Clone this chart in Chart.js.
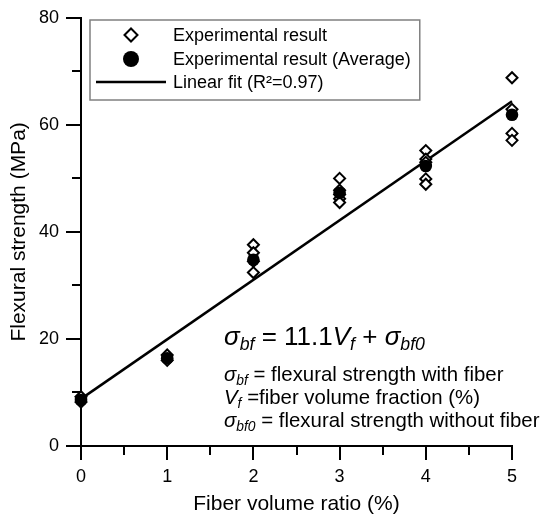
<!DOCTYPE html>
<html>
<head>
<meta charset="utf-8">
<script src="https://cdn.jsdelivr.net/npm/chart.js@4.4.1/dist/chart.umd.min.js"></script>
<style>
  html, body { margin: 0; padding: 0; background: #fff; }
  #wrap { position: relative; width: 543px; height: 515px; }
  .note { position: absolute; left: 224px; font-family: "Liberation Sans", Arial, sans-serif; color: #000; white-space: nowrap; }
  .note sub { font-size: 68%; vertical-align: -0.28em; line-height: 0; }
  #eq { top: 321px; font-size: 26px; line-height: 30px; }
  #defs { top: 363px; font-size: 20.4px; line-height: 23px; }
</style>
</head>
<body>
<div id="wrap">
  <canvas id="chart" width="543" height="515"></canvas>
  <div class="note" id="eq"><i>σ<sub>bf</sub></i> = 11.1<i>V<sub>f</sub></i> + <i>σ<sub>bf0</sub></i></div>
  <div class="note" id="defs">
    <div><i>σ<sub>bf</sub></i> = flexural strength with fiber</div>
    <div><i>V<sub>f</sub></i> =fiber volume fraction (%)</div>
    <div><i>σ<sub>bf0</sub></i> = flexural strength without fiber</div>
  </div>
</div>
<script>
// Werte
const fiberRatio = [0, 1, 2, 3, 4, 5];
const averageStrength = [8.6, 16.4, 34.8, 47.3, 52.3, 61.9];
const sampleRatio = [0, 0, 1, 1, 2, 2, 2, 2, 3, 3, 3, 3, 3, 4, 4, 4, 4, 4, 5, 5, 5, 5];
const sampleStrength = [9.2, 8.2, 17.0, 16.0, 37.6, 36.1, 34.5, 32.4, 50.0, 47.8, 47.0, 46.2, 45.5, 55.2, 53.6, 53.0, 49.9, 48.9, 68.8, 62.9, 58.4, 57.1];
const fitRatio = [0, 5];
const fitStrength = [8.8, 64.4];
const xTicks = [0, 1, 2, 3, 4, 5];
const xMinorTicks = [0.5, 1.5, 2.5, 3.5, 4.5];
const yTicks = [0, 20, 40, 60, 80];
const yMinorTicks = [10, 30, 50, 70];
const legendLabels = ['Experimental result', 'Experimental result (Average)', 'Linear fit (R\u00b2=0.97)'];

const schrift = '"Liberation Sans", Arial, sans-serif';

function punkte(xs, ys) {
    return xs.map((x, i) => ({ x: x, y: ys[i] }));
}

// Nebenstriche und Legende zeichnen
const extras = {
    id: 'extras',
    afterDraw(chart) {
        const ctx = chart.ctx;
        const xs = chart.scales.x;
        const ys = chart.scales.y;
        ctx.save();
        ctx.strokeStyle = '#000';
        ctx.lineWidth = 2;
        xMinorTicks.forEach(v => {
            const px = Math.round(xs.getPixelForValue(v));
            ctx.beginPath();
            ctx.moveTo(px, ys.bottom);
            ctx.lineTo(px, ys.bottom + 9);
            ctx.stroke();
        });
        yMinorTicks.forEach(v => {
            const py = Math.round(ys.getPixelForValue(v));
            ctx.beginPath();
            ctx.moveTo(xs.left, py);
            ctx.lineTo(xs.left - 9, py);
            ctx.stroke();
        });

        // Legende
        ctx.font = '18px ' + schrift;
        const textX = 173;
        let breite = 0;
        legendLabels.forEach(t => { breite = Math.max(breite, ctx.measureText(t).width); });
        const box = { left: 90, top: 20, right: textX + breite + 9, bottom: 100 };
        ctx.fillStyle = '#fff';
        ctx.fillRect(box.left, box.top, box.right - box.left, box.bottom - box.top);
        ctx.strokeStyle = '#808080';
        ctx.lineWidth = 1.5;
        ctx.strokeRect(box.left, box.top, box.right - box.left, box.bottom - box.top);

        const reihen = [35, 59, 82];
        ctx.strokeStyle = '#000';
        ctx.fillStyle = '#fff';
        ctx.lineWidth = 2;
        Chart.helpers.drawPoint(ctx, { pointStyle: 'rectRot', radius: 6.5, borderWidth: 2 }, 131, reihen[0]);
        ctx.fillStyle = '#000';
        Chart.helpers.drawPoint(ctx, { pointStyle: 'circle', radius: 8, borderWidth: 0 }, 131, reihen[1]);
        ctx.lineWidth = 2.5;
        ctx.beginPath();
        ctx.moveTo(96, reihen[2]);
        ctx.lineTo(166, reihen[2]);
        ctx.stroke();

        ctx.fillStyle = '#000';
        ctx.textBaseline = 'middle';
        ctx.textAlign = 'left';
        legendLabels.forEach((t, i) => ctx.fillText(t, textX, reihen[i] + 1));
        ctx.restore();
    }
};

new Chart(document.getElementById('chart'), {
    type: 'scatter',
    data: {
        datasets: [
            {
                label: legendLabels[1],
                data: punkte(fiberRatio, averageStrength),
                pointStyle: 'circle',
                pointRadius: 6.3,
                pointBackgroundColor: '#000',
                pointBorderColor: '#000',
                pointBorderWidth: 0,
                clip: false
            },
            {
                label: legendLabels[0],
                data: punkte(sampleRatio, sampleStrength),
                pointStyle: 'rectRot',
                pointRadius: 5.5,
                pointBackgroundColor: '#fff',
                pointBorderColor: '#000',
                pointBorderWidth: 2,
                clip: false
            },
            {
                type: 'line',
                label: legendLabels[2],
                data: punkte(fitRatio, fitStrength),
                borderColor: '#000',
                borderWidth: 2.5,
                pointRadius: 0,
                fill: false,
                clip: false
            }
        ]
    },
    options: {
        responsive: false,
        animation: false,
        layout: { padding: { left: 0, right: 31, top: 16, bottom: 0 } },
        plugins: {
            legend: { display: false },
            tooltip: { enabled: false }
        },
        scales: {
            x: {
                type: 'linear',
                min: 0,
                max: 5,
                afterFit: s => { s.height = 69; },
                afterBuildTicks: s => { s.ticks = xTicks.map(v => ({ value: v })); },
                border: { color: '#000', width: 2 },
                grid: { drawOnChartArea: false, color: '#000', lineWidth: 2, tickLength: 14 },
                ticks: { color: '#000', font: { family: schrift, size: 18 }, padding: 6 },
                title: {
                    display: true,
                    text: 'Fiber volume ratio (%)',
                    color: '#000',
                    font: { family: schrift, size: 21, lineHeight: 1 },
                    padding: { top: 0, bottom: 0 }
                }
            },
            y: {
                type: 'linear',
                min: 0,
                max: 80,
                afterFit: s => { s.width = 81; },
                afterBuildTicks: s => { s.ticks = yTicks.map(v => ({ value: v })); },
                border: { color: '#000', width: 2 },
                grid: { drawOnChartArea: false, color: '#000', lineWidth: 2, tickLength: 15 },
                ticks: { color: '#000', font: { family: schrift, size: 18 }, padding: 7 },
                title: {
                    display: true,
                    text: 'Flexural strength (MPa)',
                    color: '#000',
                    font: { family: schrift, size: 21, lineHeight: 1 },
                    padding: { top: 9, bottom: 0 }
                }
            }
        }
    },
    plugins: [extras]
});
</script>
</body>
</html>
